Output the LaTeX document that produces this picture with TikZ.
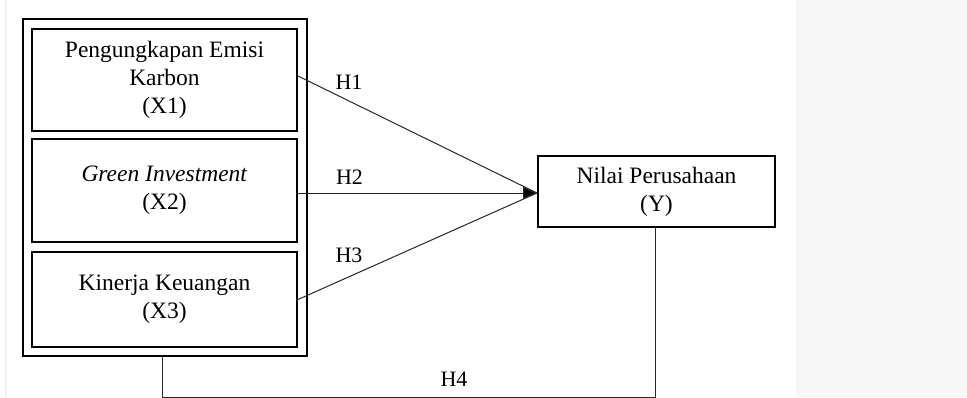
\documentclass[tikz,border=0pt]{standalone}
\usepackage{fontspec}
\setmainfont{Liberation Serif}
\usetikzlibrary{arrows.meta}
\definecolor{panelgray}{HTML}{F7F7F7}
\definecolor{edgegray}{HTML}{F0F0F0}
\begin{document}
\begin{tikzpicture}[x=1pt,y=-1pt,
  varbox/.style={draw=black,line width=2pt,rectangle,align=center,inner sep=0pt,
    font=\fontsize{23.5}{28}\selectfont},
  hlabel/.style={inner sep=0pt,font=\fontsize{22}{26}\selectfont},
  conn/.style={draw=black!85,line width=1pt},
  tip/.style={-{Triangle[length=14pt,width=12pt,fill=black]}}
]
\useasboundingbox (0,0) rectangle (967,397);
\fill[panelgray] (796,0) rectangle (967,397);
\draw[edgegray,line width=1.5pt] (6,0) -- (6,397);

\node[varbox,minimum width=284pt,minimum height=337pt] (outer) at (165,187.5) {};
\node[varbox,minimum width=265pt,minimum height=102pt] (x1) at (164.5,80) {Pengungkapan Emisi\\Karbon\\(X1)};
\node[varbox,minimum width=265pt,minimum height=103pt] (x2) at (164.5,190.5) {\textit{Green Investment}\\(X2)};
\node[varbox,minimum width=265pt,minimum height=95pt] (x3) at (164.5,299.5) {Kinerja Keuangan\\(X3)};
\node[varbox,minimum width=237pt,minimum height=71pt] (y) at (656.5,191.5) {Nilai Perusahaan\\(Y)};

\coordinate (t) at ([yshift=-1.5pt]y.west);
\draw[conn] ([yshift=4pt]x1.east) -- (t);
\draw[conn] (x3.east) -- (t);
\draw[conn,tip] (x2.east |- t) -- (t);
\coordinate (b) at ([xshift=-3pt,yshift=-40pt]outer.south);
\coordinate (ys) at ([xshift=-1.5pt]y.south);
\draw[conn] (b |- outer.south) -- (b) -| (ys);

\node[hlabel] (h1) at (349,82) {H1};
\node[hlabel] (h2) at (349.5,177.5) {H2};
\node[hlabel] (h3) at (349,255.5) {H3};
\node[hlabel] (h4) at (454,379.5) {H4};
\end{tikzpicture}
\end{document}
